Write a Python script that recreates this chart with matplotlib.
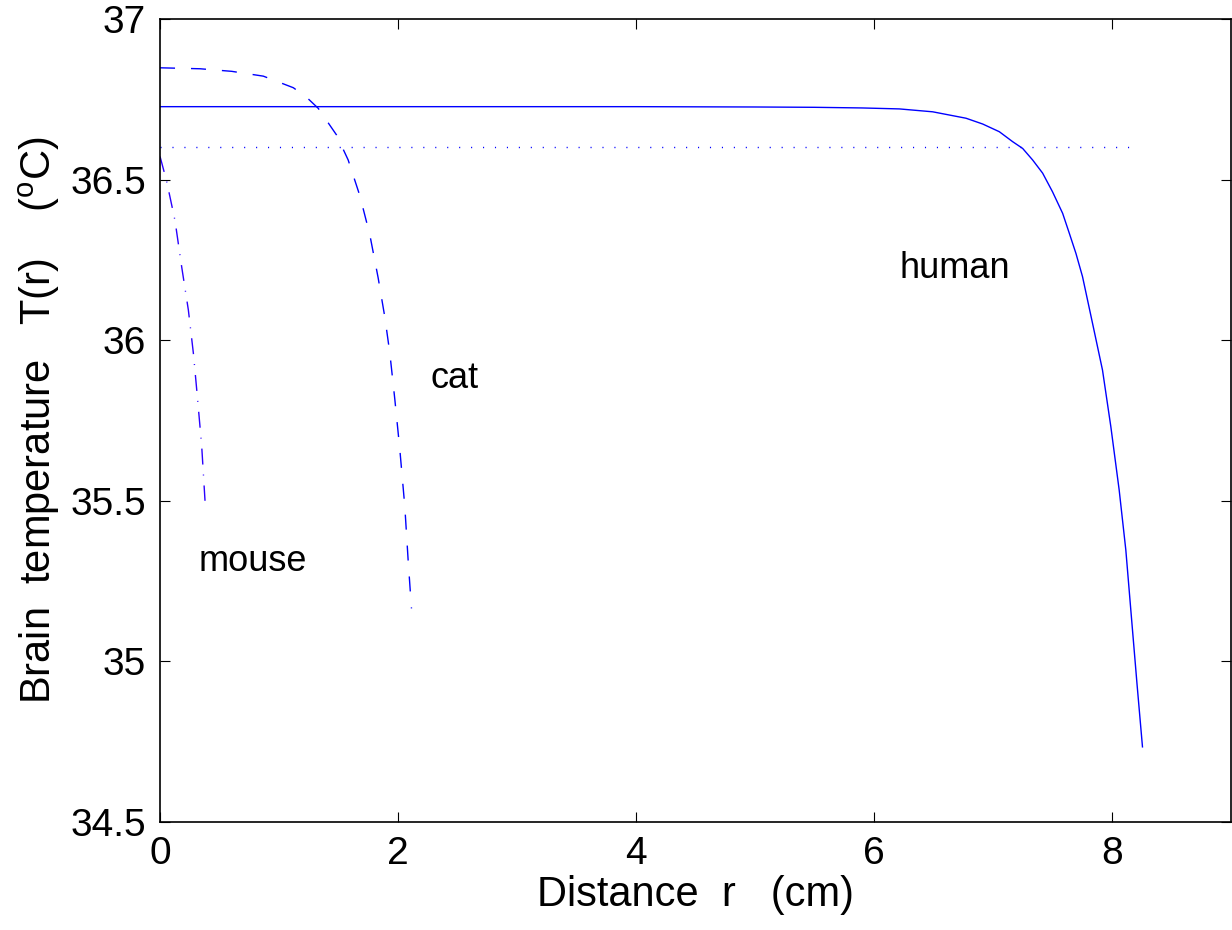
import matplotlib
matplotlib.use('Agg')
import matplotlib.pyplot as plt

# human (solid)
human_r = [0, 1, 2, 3, 4, 5, 5.5, 5.9, 6.213, 6.493, 6.773, 6.913, 7.053, 7.165,
           7.249, 7.333, 7.417, 7.50, 7.585, 7.641, 7.697, 7.752, 7.836,
           7.92, 7.99, 8.06, 8.116, 8.158, 8.21, 8.256]
human_T = [36.727, 36.727, 36.727, 36.727, 36.727, 36.726, 36.725, 36.723, 36.720,
           36.711, 36.691, 36.673, 36.649, 36.618, 36.597, 36.561, 36.520, 36.462,
           36.395, 36.333, 36.270, 36.198, 36.053, 35.907, 35.731, 35.534,
           35.347, 35.16, 34.93, 34.734]

# cat (dashed)
cat_r = [0, 0.336, 0.602, 0.868, 1.12, 1.232, 1.329, 1.483, 1.581, 1.679, 1.763,
         1.833, 1.889, 1.931, 1.973, 2.015, 2.057, 2.085, 2.113]
cat_T = [36.848, 36.845, 36.837, 36.822, 36.786, 36.756, 36.722, 36.639, 36.561,
         36.45, 36.328, 36.194, 36.072, 35.96, 35.816, 35.66, 35.482, 35.315, 35.165]

# mouse (dash-dot)
mouse_r = [0, 0.056, 0.126, 0.182, 0.238, 0.28, 0.313, 0.35, 0.378]
mouse_T = [36.572, 36.494, 36.372, 36.228, 36.094, 35.96, 35.827, 35.671, 35.5]

# arterial blood temperature (dotted)
blood_r = [0, 8.17]
blood_T = [36.6, 36.6]

labels = ['human', 'cat', 'mouse']
label_pos = [(6.21, 36.194), (2.27, 35.851), (0.32, 35.282)]

plt.rcParams['font.family'] = ['Liberation Sans', 'DejaVu Sans']
plt.rcParams['mathtext.fontset'] = 'custom'
plt.rcParams['mathtext.rm'] = 'Liberation Sans'
plt.rcParams['mathtext.it'] = 'Liberation Sans'
plt.rcParams['lines.scale_dashes'] = False

fig = plt.figure(figsize=(12.32, 9.3), dpi=100)
ax = fig.add_axes([0.1299, 0.1161, 0.8693, 0.8635])

ax.plot(human_r, human_T, color='#0000ff', lw=1.0)
ax.plot(cat_r, cat_T, color='#0000ff', lw=1.0, dashes=(10.8, 11.5))
ax.plot(mouse_r, mouse_T, color='#2a00ff', lw=1.0, dashes=(11.5, 7.2, 0.7, 7.2))
ax.plot(blood_r, blood_T, color='#0000ff', lw=1.0, dashes=(0.8, 7.8))

for txt, (x, y) in zip(labels, label_pos):
    ax.text(x, y, txt, fontsize=26, ha='left', va='baseline')

ax.set_xlim(0, 9)
ax.set_ylim(34.5, 37)
ax.set_xticks([0, 2, 4, 6, 8])
ax.set_yticks([34.5, 35, 35.5, 36, 36.5, 37])
ax.set_yticklabels(['34.5', '35', '35.5', '36', '36.5', '37'])
ax.tick_params(direction='in', length=7, width=0.8, labelsize=28,
               top=True, right=True, pad=10)
for s in ax.spines.values():
    s.set_linewidth(1.2)

ax.set_xlabel('Distance  r   (cm)', fontsize=30, labelpad=2)
ax.set_ylabel(r'Brain  temperature   T(r)    ($^{\rm o}$C)', fontsize=30, labelpad=6)

fig.savefig('out.png', dpi=100)
